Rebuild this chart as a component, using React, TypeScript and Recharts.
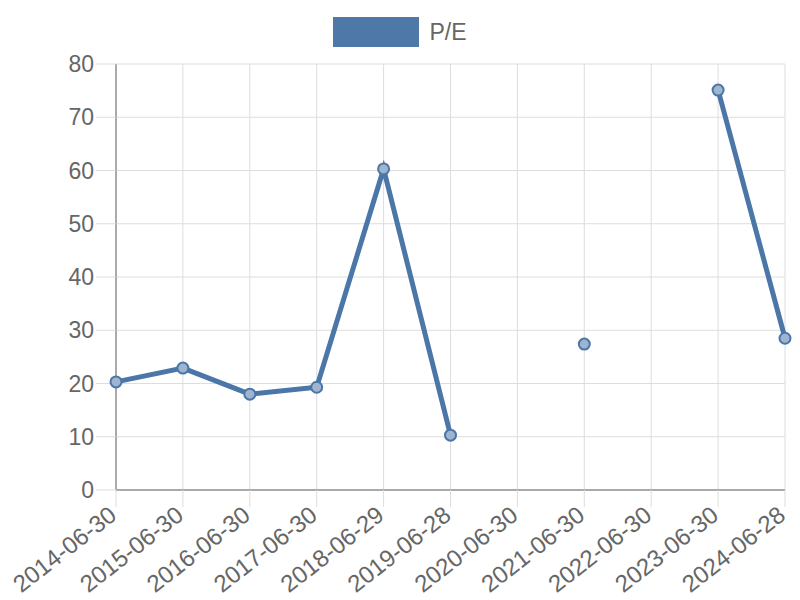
import React from "react";
import { LineChart, Line, XAxis, YAxis, CartesianGrid, Legend } from "recharts";

const dates = [
  "2014-06-30", "2015-06-30", "2016-06-30", "2017-06-30", "2018-06-29", "2019-06-28",
  "2020-06-30", "2021-06-30", "2022-06-30", "2023-06-30", "2024-06-28",
];
const peValues: (number | null)[] = [20.3, 22.9, 18.0, 19.3, 60.3, 10.3, null, 27.4, null, 75.1, 28.5];
const yTicks = [0, 10, 20, 30, 40, 50, 60, 70, 80];

const data = dates.map((d, i) => ({ date: d, pe: peValues[i] }));

const FONT = "'Liberation Sans', Arial, sans-serif";
const LINE = "#4a76a8";

function DateTick(props: any) {
  const { x, y, payload } = props;
  return (
    <g transform={`translate(${x + 2},${y + 9})`}>
      <text transform="rotate(-38)" textAnchor="end" fill="#666" fontSize={24} fontFamily={FONT}>
        {payload.value}
      </text>
    </g>
  );
}

function LegendBox() {
  return (
    <div style={{ display: "flex", justifyContent: "center", alignItems: "center", height: 36, fontFamily: FONT }}>
      <span style={{ width: 86, height: 30, background: "#4d78a8", display: "inline-block" }} />
      <span style={{ marginLeft: 10, fontSize: 23, color: "#666" }}>P/E</span>
    </div>
  );
}

export default function App() {
  return (
    <div style={{ position: "absolute", left: 0, top: 0, width: 800, height: 600, background: "#fff" }}>
      <LineChart width={800} height={600} data={data} margin={{ top: 28, right: 15, bottom: 0, left: 0 }}>
        <Legend verticalAlign="top" content={<LegendBox />} wrapperStyle={{ top: 14, left: 0, width: 800 }} />
        <CartesianGrid stroke="#ddd" strokeWidth={1} />
        <XAxis
          dataKey="date"
          interval={0}
          padding={{ left: 0, right: 0 }}
          height={110}
          tickSize={17}
          tickMargin={2}
          tickLine={{ stroke: "#ddd" }}
          axisLine={{ stroke: "#aaa", strokeWidth: 2 }}
          tick={<DateTick />}
        />
        <YAxis
          domain={[0, 80]}
          ticks={yTicks}
          width={116}
          tickSize={20}
          tickMargin={2}
          tickLine={{ stroke: "#ddd" }}
          axisLine={{ stroke: "#aaa", strokeWidth: 2 }}
          tick={{ fill: "#666", fontSize: 23, fontFamily: FONT }}
        />
        <Line
          dataKey="pe"
          stroke={LINE}
          strokeWidth={5}
          type="linear"
          connectNulls={false}
          dot={{ r: 5.5, fill: "#9fb4cf", stroke: LINE, strokeWidth: 2 }}
          isAnimationActive={false}
        />
      </LineChart>
    </div>
  );
}
